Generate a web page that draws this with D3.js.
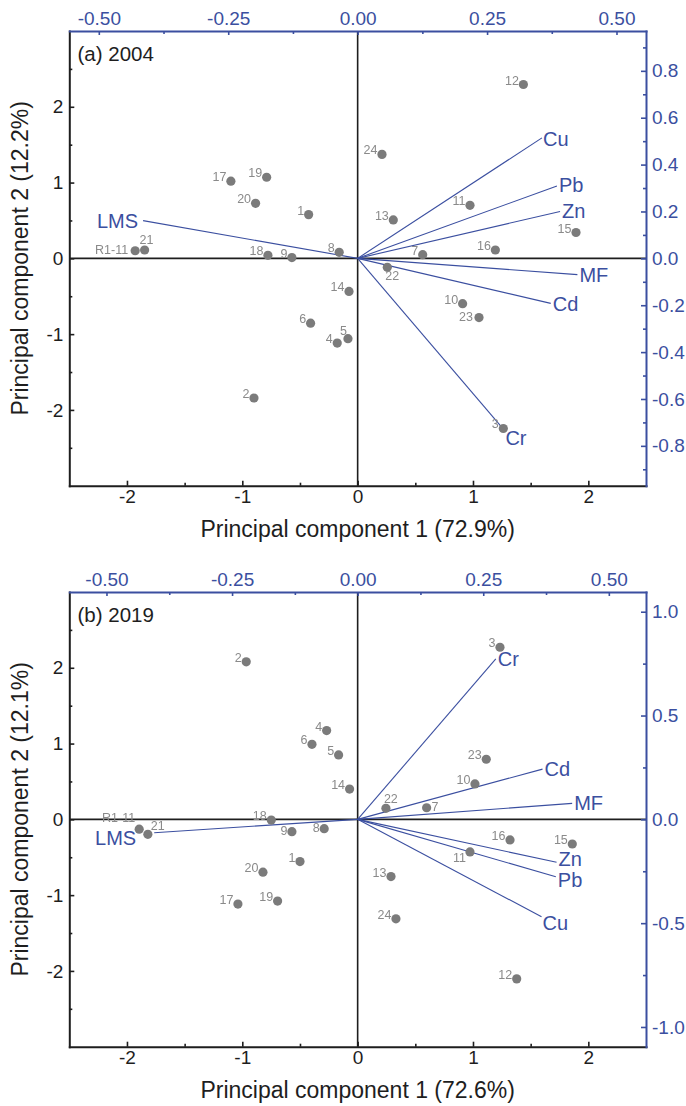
<!DOCTYPE html>
<html>
<head>
<meta charset="utf-8">
<script src="https://cdn.jsdelivr.net/npm/d3@7"></script>
<style>
  body { margin: 0; background: #fff; }
  svg text { font-family: "Liberation Sans", Arial, Helvetica, sans-serif; }
</style>
</head>
<body>
<svg id="chart" width="686" height="1106"></svg>
<script>
// ---- Sampling sites ----
const sites = ["1","2","3","4","5","6","7","8","9","10","11","12","13","14","15","16","17","18","19","20","21","22","23","24","R1-11"];

// ---- PCA scores, 2004 ----
const pc1Scores2004 = [-0.425,-0.899,1.263,-0.177,-0.084,-0.408,0.564,-0.160,-0.570,0.910,0.974,1.437,0.309,-0.075,1.893,1.194,-1.099,-0.778,-0.789,-0.885,-1.847,0.257,1.052,0.211,-1.929];
const pc2Scores2004 = [0.577,-1.843,-2.245,-1.118,-1.060,-0.856,0.048,0.080,0.010,-0.598,0.700,2.294,0.507,-0.436,0.341,0.110,1.018,0.040,1.070,0.726,0.110,-0.118,-0.781,1.372,0.100];

// ---- PCA scores, 2019 ----
const pc1Scores2019 = [-0.500,-0.966,1.234,-0.269,-0.165,-0.396,0.598,-0.290,-0.570,1.017,0.974,1.379,0.289,-0.070,1.861,1.321,-1.038,-0.749,-0.694,-0.821,-1.819,0.245,1.115,0.332,-1.894];
const pc2Scores2019 = [-0.557,2.079,2.271,1.171,0.850,0.990,0.153,-0.123,-0.163,0.468,-0.430,-2.105,-0.755,0.400,-0.325,-0.272,-1.118,-0.010,-1.079,-0.697,-0.197,0.145,0.793,-1.312,-0.130];

// ---- Variable loadings ----
const variables = ["Cu","Pb","Zn","MF","Cd","Cr","LMS"];
const pc1Loadings2004 = [0.356,0.385,0.391,0.4245,0.373,0.2815,-0.4145];
const pc2Loadings2004 = [0.514,0.309,0.200,-0.0696,-0.192,-0.7285,0.161];
const pc1Loadings2019 = [0.366,0.3945,0.396,0.427,0.368,0.275,-0.405];
const pc2Loadings2019 = [-0.469,-0.2765,-0.207,0.077,0.242,0.7725,-0.0645];

// ---- Tick values ----
const scoreTicks = [-2,-1,0,1,2];
const loadingTicksX = [-0.5,-0.25,0,0.25,0.5];
const loadingTicksY2004 = [-0.8,-0.6,-0.4,-0.2,0,0.2,0.4,0.6,0.8];
const loadingTicksY2019 = [-1,-0.5,0,0.5,1];

// ---- Text ----
const panelTitles = ["(a) 2004","(b) 2019"];
const pc1Titles = ["Principal component 1 (72.9%)","Principal component 1 (72.6%)"];
const pc2Titles = ["Principal component 2 (12.2%)","Principal component 2 (12.1%)"];

// ---- Styling ----
const BLUE = "#3b4fa0";
const INK = "#1e1e1e";
const POINT = "#7b7b7b";
const POINT_LABEL = "#8a8a8a";

const svg = d3.select("#chart");

// grey-only rendering for the small site labels
svg.append("defs").append("filter").attr("id", "mono")
  .append("feColorMatrix").attr("type", "saturate").attr("values", 0);

// plain hyphen for negative numbers
const hy = f => d => f(d).replace("\u2212", "-");

function minorBetween(step, lo, hi, majors) {
  const out = [];
  const n0 = Math.ceil(lo / step - 1e-9), n1 = Math.floor(hi / step + 1e-9);
  for (let i = n0; i <= n1; i++) {
    const v = +(i * step).toFixed(6);
    if (!majors.some(m => Math.abs(m - v) < 1e-9) && v > lo + 1e-9 && v < hi - 1e-9) out.push(v);
  }
  return out;
}

function drawPanel(p) {
  const L = 69.3, R = 646, T = p.top, B = p.bottom;
  const g = svg.append("g");

  const x = d3.scaleLinear().domain([-2.5, 2.5]).range([L, R]);
  const y = d3.scaleLinear().domain([-3, 3]).range([B, T]);
  const xl = d3.scaleLinear().domain([-p.loadX, p.loadX]).range([L, R]);
  const yl = d3.scaleLinear().domain([-p.loadY, p.loadY]).range([B, T]);

  // zero reference lines
  g.append("line").attr("x1", L).attr("x2", R).attr("y1", y(0)).attr("y2", y(0))
    .attr("stroke", INK).attr("stroke-width", 1.6);
  g.append("line").attr("x1", x(0)).attr("x2", x(0)).attr("y1", T).attr("y2", B)
    .attr("stroke", INK).attr("stroke-width", 1.6);

  // loading vectors
  const vecs = variables.map((v, i) => ({ name: v, a: p.load1[i], b: p.load2[i] }));
  g.append("g").selectAll("line").data(vecs).join("line")
    .attr("x1", xl(0)).attr("y1", yl(0))
    .attr("x2", d => xl(d.a)).attr("y2", d => yl(d.b))
    .attr("stroke", BLUE).attr("stroke-width", 1.1);
  g.append("g").selectAll("text").data(vecs).join("text")
    .attr("x", d => xl(d.a) + (p.vecPlace[d.name] || [2, 0])[0])
    .attr("y", d => yl(d.b) + (p.vecPlace[d.name] || [2, 0])[1] + 7)
    .attr("text-anchor", d => d.name === "LMS" ? "end" : "start")
    .attr("font-size", 20).attr("fill", BLUE)
    .text(d => d.name);

  // site scores
  const pts = sites.map((s, i) => ({ name: s, a: p.score1[i], b: p.score2[i] }));
  g.append("g").selectAll("circle").data(pts).join("circle")
    .attr("cx", d => x(d.a)).attr("cy", d => y(d.b)).attr("r", 4.6)
    .attr("fill", POINT);
  g.append("g").attr("filter", "url(#mono)").selectAll("text").data(pts).join("text")
    .attr("x", d => x(d.a) + (p.sitePlace[d.name] || ["end", -4.5, 0])[1])
    .attr("y", d => y(d.b) + (p.sitePlace[d.name] || ["end", -4.5, 0])[2])
    .attr("text-anchor", d => (p.sitePlace[d.name] || ["end"])[0])
    .attr("font-size", 12.5).attr("fill", POINT_LABEL)
    .text(d => d.name);

  // axes
  const styleAxis = (sel, color, fs) => {
    sel.select(".domain").attr("stroke", color).attr("stroke-width", 2).attr("stroke-linecap", "square");
    sel.selectAll(".tick line").attr("stroke", color).attr("stroke-width", 1.6);
    sel.selectAll(".tick text").attr("fill", color).attr("font-size", fs).attr("font-family", null);
  };

  const fmtScore = d => String(d);
  // bottom
  const gb = g.append("g").attr("transform", `translate(0,${B})`)
    .call(d3.axisBottom(x).tickValues(scoreTicks).tickFormat(fmtScore).tickSizeInner(-5).tickSizeOuter(0).tickPadding(4));
  styleAxis(gb, INK, 19);
  const gbm = g.append("g").attr("transform", `translate(0,${B})`)
    .call(d3.axisBottom(x).tickValues(minorBetween(0.5, -2.5, 2.5, scoreTicks)).tickFormat("").tickSizeInner(-3).tickSizeOuter(0));
  gbm.select(".domain").remove(); gbm.selectAll(".tick line").attr("stroke", INK).attr("stroke-width", 1.6);

  // left
  const gL = g.append("g").attr("transform", `translate(${L},0)`)
    .call(d3.axisLeft(y).tickValues(scoreTicks).tickFormat(fmtScore).tickSizeInner(-5).tickSizeOuter(0).tickPadding(6));
  styleAxis(gL, INK, 19);
  const gLm = g.append("g").attr("transform", `translate(${L},0)`)
    .call(d3.axisLeft(y).tickValues(minorBetween(0.5, -3, 3, scoreTicks)).tickFormat("").tickSizeInner(-3).tickSizeOuter(0));
  gLm.select(".domain").remove(); gLm.selectAll(".tick line").attr("stroke", INK).attr("stroke-width", 1.6);

  // top (loadings PC1)
  const gt = g.append("g").attr("transform", `translate(0,${T})`)
    .call(d3.axisTop(xl).tickValues(loadingTicksX).tickFormat(hy(d3.format(".2f"))).tickSizeInner(-4).tickSizeOuter(0).tickPadding(6));
  styleAxis(gt, BLUE, 19);
  const gtm = g.append("g").attr("transform", `translate(0,${T})`)
    .call(d3.axisTop(xl).tickValues(minorBetween(0.125, -p.loadX, p.loadX, loadingTicksX)).tickFormat("").tickSizeInner(-3).tickSizeOuter(0));
  gtm.select(".domain").remove(); gtm.selectAll(".tick line").attr("stroke", BLUE).attr("stroke-width", 1.6);

  // right (loadings PC2)
  const gr = g.append("g").attr("transform", `translate(${R},0)`)
    .call(d3.axisRight(yl).tickValues(p.rightTicks).tickFormat(hy(d3.format(".1f"))).tickSizeInner(-5).tickSizeOuter(0).tickPadding(6));
  styleAxis(gr, BLUE, 19);
  const grm = g.append("g").attr("transform", `translate(${R},0)`)
    .call(d3.axisRight(yl).tickValues(minorBetween(p.rightMinor, -p.loadY, p.loadY, p.rightTicks)).tickFormat("").tickSizeInner(-3).tickSizeOuter(0));
  grm.select(".domain").remove(); grm.selectAll(".tick line").attr("stroke", BLUE).attr("stroke-width", 1.6);

  // titles
  g.append("text").attr("x", 77.5).attr("y", T + 30)
    .attr("font-size", 20.5).attr("fill", INK).text(p.title);
  g.append("text").attr("x", (L + R) / 2).attr("y", B + 51)
    .attr("text-anchor", "middle").attr("font-size", 23).attr("fill", INK).text(p.xTitle);
  g.append("text").attr("transform", `translate(27.5,${(T + B) / 2}) rotate(-90)`)
    .attr("text-anchor", "middle").attr("font-size", 23).attr("fill", INK).text(p.yTitle);
}

drawPanel({
  top: 31, bottom: 485.7,
  loadX: 0.557, loadY: 0.97,
  score1: pc1Scores2004, score2: pc2Scores2004,
  load1: pc1Loadings2004, load2: pc2Loadings2004,
  rightTicks: loadingTicksY2004, rightMinor: 0.1,
  title: panelTitles[0], xTitle: pc1Titles[0], yTitle: pc2Titles[0],
  vecPlace: { Cu: [1, 1], Pb: [2, -1], Zn: [2, 0], MF: [2, 0], Cd: [2, 1], Cr: [2, 9], LMS: [-5, 0] },
  sitePlace: { "21": ["start", -5, -6.5], "22": ["start", -2, 13], "5": ["end", -1, -4], "R1-11": ["end", -7, 3], "23": ["end", -6, 3] }
});

drawPanel({
  top: 592, bottom: 1046.7,
  loadX: 0.574, loadY: 1.095,
  score1: pc1Scores2019, score2: pc2Scores2019,
  load1: pc1Loadings2019, load2: pc2Loadings2019,
  rightTicks: loadingTicksY2019, rightMinor: 0.25,
  title: panelTitles[1], xTitle: pc1Titles[1], yTitle: pc2Titles[1],
  vecPlace: { Cr: [2, 0], Cd: [2, 0], MF: [2, 0], Zn: [2, -3], Pb: [2, 3], Cu: [1, 6], LMS: [-18, 5] },
  sitePlace: { "R1-11": ["end", -4, -7], "21": ["start", 3, -4], "11": ["end", -4, 10], "7": ["start", 5, 3], "22": ["start", -2, -5], "8": ["end", -4.5, 3], "9": ["end", -4.5, 3] }
});
</script>
</body>
</html>
